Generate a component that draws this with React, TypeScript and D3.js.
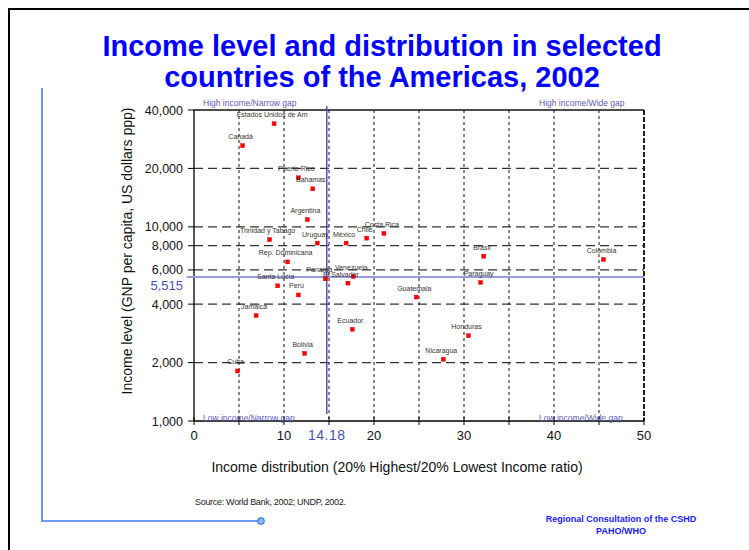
import React from "react";
import * as d3 from "d3";

const countries = [
  "Estados Unidos de Am", "Canadá", "Puerto Rico", "Bahamas", "Argentina",
  "Trinidad y Tabago", "Uruguay", "México", "Chile", "Costa Rica",
  "Rep. Dominicana", "Panamá", "Venezuela", "El Salvador", "Santa Lucía",
  "Perú", "Jamaica", "Ecuador", "Bolivia", "Cuba",
  "Brasil", "Paraguay", "Guatemala", "Honduras", "Nicaragua", "Colombia",
];
const incomeRatio = [
  8.9, 5.4, 11.6, 13.2, 12.6,
  8.4, 13.7, 16.9, 19.2, 21.1,
  10.4, 14.6, 17.7, 17.1, 9.3,
  11.6, 6.9, 17.6, 12.3, 4.85,
  32.2, 31.85, 24.7, 30.5, 27.7, 45.5,
];
const gnpPerCapita = [
  34000, 26200, 17900, 15700, 10900,
  8600, 8250, 8250, 8750, 9250,
  6600, 5400, 5550, 5130, 4970,
  4460, 3490, 2970, 2230, 1810,
  7060, 5170, 4350, 2750, 2080, 6790,
];
const yTicks = [1000, 2000, 4000, 6000, 8000, 10000, 20000, 40000];
const yGrid = [2000, 4000, 6000, 8000, 10000, 20000];
const xTicks = [0, 10, 20, 30, 40, 50];
const xMinorTicks = [0, 5, 10, 15, 20, 25, 30, 35, 40, 45, 50];
const xGrid = [5, 10, 15, 20, 25, 30, 35, 40, 45];
const meanIncome = 5515;
const meanIncomeLabel = "5,515";
const meanRatioPos = 14.75;
const meanRatioLabel = "14.18";

const labelNudge: Record<string, number> = { "Panamá": -4, "El Salvador": -5 };

const FONT = "'Liberation Sans', Arial, Helvetica, sans-serif";

export default function App() {
  const left = 194, right = 644, top = 110, bottom = 421;
  const x = d3.scaleLinear().domain([0, 50]).range([left, right]);
  const y = d3.scaleLog().domain([1000, 40000]).range([bottom, top]);
  const fmt = d3.format(",");
  const quadColor = "#5c5cb8";

  return (
    <svg width={749} height={550} style={{ position: "absolute", left: 0, top: 0, background: "#fff" }} fontFamily={FONT}>
      <rect x={0} y={0} width={749} height={550} fill="#fff" />
      {/* slide frame */}
      <rect x={9} y={9} width={900} height={700} fill="none" stroke="#000" strokeWidth={2} />
      {/* decorative line */}
      <path d="M42,88 L42,521 L261,521" fill="none" stroke="#3b7bef" strokeWidth={1.5} />
      <circle cx={261} cy={521} r={3.2} fill="#8fb8ff" stroke="#3b7bef" strokeWidth={1.2} />

      {/* title */}
      <text x={382} y={56} textAnchor="middle" fontSize={29} fontWeight="bold" fill="#0000ff">Income level and distribution in selected</text>
      <text x={382} y={87} textAnchor="middle" fontSize={29} fontWeight="bold" fill="#0000ff">countries of the Americas, 2002</text>

      {/* grid */}
      {yGrid.map((v) => (
        <line key={"yg" + v} x1={left} x2={right} y1={y(v)} y2={y(v)} stroke="#333" strokeWidth={1.2} strokeDasharray="9,5" />
      ))}
      {xGrid.map((v) => (
        <line key={"xg" + v} x1={x(v)} x2={x(v)} y1={top} y2={bottom} stroke="#111" strokeWidth={1} strokeDasharray="3,3" />
      ))}
      <line x1={right} x2={right} y1={top} y2={bottom} stroke="#222" strokeWidth={2} strokeDasharray="5,2" />
      <line x1={left} x2={right} y1={top} y2={top} stroke="#111" strokeWidth={1.3} />

      {/* axes */}
      <line x1={left} x2={left} y1={top} y2={bottom} stroke="#000" strokeWidth={1.3} />
      <line x1={left} x2={right} y1={bottom} y2={bottom} stroke="#000" strokeWidth={1.3} />
      {yTicks.map((v) => (
        <g key={"yt" + v}>
          <line x1={left - 6} x2={left} y1={y(v)} y2={y(v)} stroke="#000" strokeWidth={1} />
          <text x={left - 11} y={y(v) + 4.5} textAnchor="end" fontSize={12.5} fill="#111">{fmt(v)}</text>
        </g>
      ))}
      {xMinorTicks.map((v) => (
        <line key={"xm" + v} x1={x(v)} x2={x(v)} y1={bottom - 4} y2={bottom + 4} stroke="#000" strokeWidth={1} />
      ))}
      {xTicks.map((v) => (
        <text key={"xt" + v} x={x(v)} y={bottom + 19} textAnchor="middle" fontSize={13} fill="#111">{v}</text>
      ))}

      {/* quadrant labels */}
      <text x={203} y={106} fontSize={8.5} fill={quadColor}>High income/Narrow gap</text>
      <text x={539} y={106} fontSize={8.5} fill={quadColor}>High income/Wide gap</text>
      <text x={203} y={421} fontSize={8.5} fill={quadColor}>Low income/Narrow gap</text>
      <text x={539} y={421} fontSize={8.5} fill={quadColor}>Low income/Wide gap</text>

      {/* reference lines */}
      <line x1={left - 7} x2={right} y1={y(meanIncome)} y2={y(meanIncome)} stroke="#9a9ade" strokeWidth={2} />
      <line x1={x(meanRatioPos)} x2={x(meanRatioPos)} y1={106} y2={414} stroke="#5050c0" strokeWidth={1.5} />
      <text x={left - 11} y={y(meanIncome) + 13} textAnchor="end" fontSize={13} fill="#5050b0">{meanIncomeLabel}</text>
      <text x={x(meanRatioPos)} y={bottom + 19} textAnchor="middle" fontSize={14} fill="#5050b0" letterSpacing={0.5}>{meanRatioLabel}</text>

      {/* points */}
      {countries.map((c, i) => {
        const px = x(incomeRatio[i]);
        const py = y(gnpPerCapita[i]);
        return (
          <g key={c}>
            <rect x={px - 2} y={py - 2} width={4} height={4} fill="#ff0000" stroke="#d00000" strokeWidth={0.4} />
            <text x={px - 2 + (labelNudge[c] || 0)} y={py - 6.5} textAnchor="middle" fontSize={7} fill="#333">{c}</text>
          </g>
        );
      })}

      {/* axis titles */}
      <text x={397} y={472} textAnchor="middle" fontSize={14} fill="#111">Income distribution (20% Highest/20% Lowest Income ratio)</text>
      <text transform="translate(132,251) rotate(-90)" textAnchor="middle" fontSize={14} fill="#111">Income level (GNP per capita, US dollars ppp)</text>

      {/* footer */}
      <text x={195} y={505} fontSize={9} fill="#222" letterSpacing={-0.3}>Source: World Bank, 2002; UNDP, 2002.</text>
      <text x={621} y={522} textAnchor="middle" fontSize={9} fontWeight="bold" fill="#1a1aff">Regional Consultation of the CSHD</text>
      <text x={621} y={534} textAnchor="middle" fontSize={9} fontWeight="bold" fill="#1a1aff">PAHO/WHO</text>
    </svg>
  );
}
